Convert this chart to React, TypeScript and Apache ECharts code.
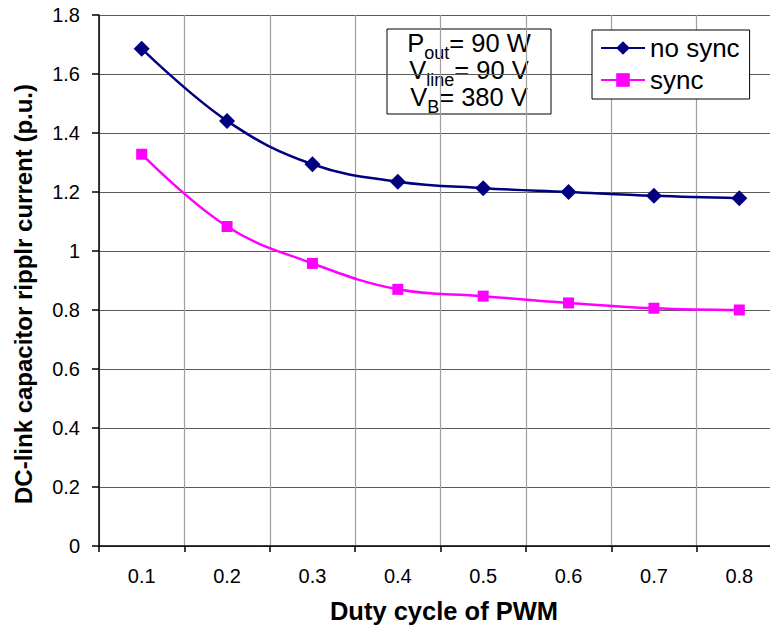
import React, { useEffect, useRef } from "react";
import * as echarts from "echarts";

const categories = ["0.1", "0.2", "0.3", "0.4", "0.5", "0.6", "0.7", "0.8"];
const noSync = [1.686, 1.441, 1.294, 1.235, 1.213, 1.2, 1.187, 1.179];
const sync = [1.328, 1.083, 0.958, 0.87, 0.847, 0.824, 0.806, 0.8];
const seriesNames = ["no sync", "sync"];
const xTitle = "Duty cycle of PWM";
const yTitle = "DC-link capacitor ripplr current (p.u.)";
const noteLines = [
  ["P", "out", "= 90 W"],
  ["V", "line", "= 90 V"],
  ["V", "B", "= 380 V"],
];

const FONT = "'Liberation Sans', Arial, sans-serif";
const MAIN_SIZE = 25.5;
const SUB_SIZE = 18;

function measure(text: string, size: number): number {
  const c = document.createElement("canvas");
  const ctx = c.getContext("2d");
  if (!ctx) return text.length * size * 0.55;
  ctx.font = `${size}px ${FONT}`;
  return ctx.measureText(text).width;
}

function buildNote(): any[] {
  const cx = 469;
  const baselines = [51, 78, 105];
  const els: any[] = [
    {
      type: "rect",
      shape: { x: 387, y: 29, width: 164, height: 85 },
      style: { fill: "#ffffff", stroke: "#000000", lineWidth: 1 },
    },
  ];
  noteLines.forEach((l, i) => {
    const w0 = measure(l[0], MAIN_SIZE);
    const w1 = measure(l[1], SUB_SIZE);
    const w2 = measure(l[2], MAIN_SIZE);
    const x0 = cx - (w0 + w1 + w2) / 2;
    const b = baselines[i];
    const mainY = b - 0.31 * MAIN_SIZE;
    const subY = b + 8 - 0.31 * SUB_SIZE;
    els.push({
      type: "text",
      style: { x: x0, y: mainY, text: l[0], fontSize: MAIN_SIZE, fontFamily: FONT, fill: "#000", align: "left", verticalAlign: "middle" },
    });
    els.push({
      type: "text",
      style: { x: x0 + w0, y: subY, text: l[1], fontSize: SUB_SIZE, fontFamily: FONT, fill: "#000", align: "left", verticalAlign: "middle" },
    });
    els.push({
      type: "text",
      style: { x: x0 + w0 + w1, y: mainY, text: l[2], fontSize: MAIN_SIZE, fontFamily: FONT, fill: "#000", align: "left", verticalAlign: "middle" },
    });
  });
  return els;
}

export default function App() {
  const ref = useRef<HTMLDivElement>(null);
  useEffect(() => {
    if (!ref.current) return;
    const chart = echarts.init(ref.current, undefined, { renderer: "svg" });
    chart.setOption({
      animation: false,
      backgroundColor: "#ffffff",
      textStyle: { fontFamily: FONT },
      grid: { left: 99, top: 15, width: 683, height: 531, containLabel: false, outerBoundsMode: "none" },
      legend: {
        orient: "vertical",
        left: 592,
        top: 30,
        data: seriesNames,
        backgroundColor: "#ffffff",
        borderColor: "#000000",
        borderWidth: 1,
        borderRadius: 0,
        padding: [5, 10, 6, 8],
        itemWidth: 44,
        itemHeight: 17,
        itemGap: 6,
        textStyle: { fontSize: 26, color: "#000", fontFamily: FONT },
        z: 10,
      },
      xAxis: {
        type: "category",
        data: categories,
        boundaryGap: true,
        name: xTitle,
        nameLocation: "middle",
        nameGap: 52,
        nameTextStyle: {
          fontSize: 25.5,
          fontWeight: "bold",
          color: "#000",
          fontFamily: FONT,
          padding: [0, 0, 0, 7],
        },
        axisLine: { show: true, lineStyle: { color: "#000", width: 1.5 } },
        axisTick: { show: true, alignWithLabel: false, length: 6, lineStyle: { color: "#000", width: 1.5 } },
        axisLabel: { fontSize: 20, color: "#000", margin: 20, fontFamily: FONT },
        splitLine: { show: true, lineStyle: { color: "#a0a0a0", width: 1.2 } },
      },
      yAxis: {
        type: "value",
        min: 0,
        max: 1.8,
        interval: 0.2,
        name: yTitle,
        nameLocation: "middle",
        nameRotate: 90,
        nameGap: 64,
        nameTextStyle: {
          fontSize: 24,
          fontWeight: "bold",
          color: "#000",
          fontFamily: FONT,
          padding: [0, 27, 0, 0],
        },
        axisLine: { show: true, lineStyle: { color: "#000", width: 1.5 } },
        axisTick: { show: true, length: 7, lineStyle: { color: "#000", width: 1.5 } },
        axisLabel: {
          fontSize: 20,
          color: "#000",
          margin: 19,
          fontFamily: FONT,
          formatter: (v: number) => String(Math.round(v * 10) / 10),
        },
        splitLine: { show: true, lineStyle: { color: "#5a5a5a", width: 1.2 } },
      },
      series: [
        {
          name: seriesNames[0],
          type: "line",
          data: noSync,
          smooth: 0.4,
          symbol: "diamond",
          symbolSize: 16,
          lineStyle: { color: "#000080", width: 2.5 },
          itemStyle: { color: "#000080" },
          z: 3,
        },
        {
          name: seriesNames[1],
          type: "line",
          data: sync,
          smooth: 0.4,
          symbol: "rect",
          symbolSize: 11,
          lineStyle: { color: "#ff00ff", width: 2.5 },
          itemStyle: { color: "#ff00ff" },
          z: 3,
        },
      ],
      graphic: [
        {
          type: "group",
          z: 20,
          children: buildNote(),
        },
      ],
    });
    return () => chart.dispose();
  }, []);
  return (
    <div style={{ position: "fixed", left: 0, top: 0, width: 770, height: 626, overflow: "hidden", background: "#fff" }}>
      <div ref={ref} style={{ width: 770, height: 626 }} />
    </div>
  );
}
